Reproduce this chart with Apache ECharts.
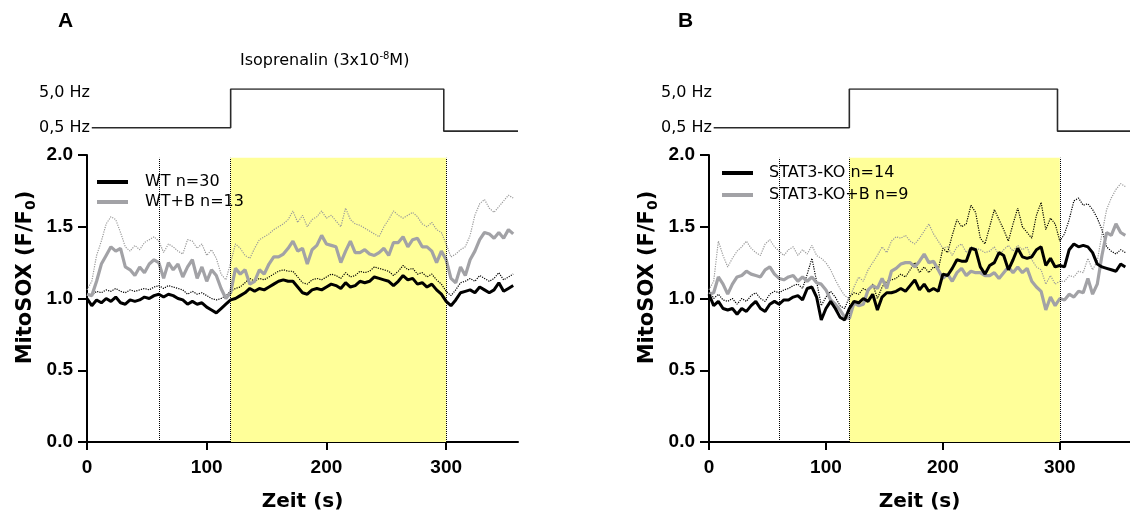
<!DOCTYPE html>
<html>
<head>
<meta charset="utf-8">
<script src="https://cdn.jsdelivr.net/npm/echarts@6/dist/echarts.min.js"></script>
<style>
  html, body { margin: 0; padding: 0; background: #fff; }
  #chart { width: 1130px; height: 517px; }
</style>
</head>
<body>
<div id="chart"></div>
<script>
// sampling grid of the traces (seconds)
const timeSec = Array.from({ length: 90 }, (_, i) => i * 4);

// stimulation protocol (Hz)
const stimTime = [4, 120, 120, 298, 298, 360];
const stimHz = [0.5, 0.5, 5.0, 5.0, 0.1, 0.1];

// markers
const markTimes = [60, 120, 300];
const isoRange = [120, 300];

// panel A
const wtMean = [
  1.00, 0.95, 0.99, 0.97, 1.00, 0.98, 1.01, 0.97, 0.96, 0.99,
  0.98, 0.99, 1.01, 1.00, 1.02, 1.03, 1.01, 1.03, 1.02, 1.00,
  0.99, 0.96, 0.98, 0.96, 0.97, 0.94, 0.92, 0.90, 0.93, 0.96,
  0.99, 1.00, 1.02, 1.04, 1.07, 1.05, 1.07, 1.06, 1.08, 1.10,
  1.12, 1.13, 1.12, 1.12, 1.08, 1.04, 1.03, 1.06, 1.07, 1.06,
  1.08, 1.10, 1.09, 1.07, 1.11, 1.08, 1.09, 1.12, 1.11, 1.12,
  1.15, 1.14, 1.13, 1.12, 1.09, 1.12, 1.16, 1.13, 1.14, 1.10,
  1.11, 1.08, 1.10, 1.06, 1.03, 0.98, 0.95, 0.99, 1.04, 1.05,
  1.06, 1.04, 1.08, 1.06, 1.04, 1.06, 1.11, 1.05, 1.07, 1.09
];
const wtUpper = [
  1.03, 1.02, 1.05, 1.04, 1.06, 1.05, 1.07, 1.05, 1.04, 1.06,
  1.05, 1.06, 1.07, 1.06, 1.08, 1.09, 1.07, 1.09, 1.08, 1.07,
  1.06, 1.03, 1.05, 1.03, 1.04, 1.02, 1.00, 0.99, 1.00, 1.02,
  1.05, 1.07, 1.08, 1.11, 1.14, 1.12, 1.14, 1.13, 1.15, 1.17,
  1.19, 1.20, 1.19, 1.19, 1.15, 1.11, 1.10, 1.13, 1.14, 1.13,
  1.15, 1.17, 1.16, 1.14, 1.18, 1.15, 1.16, 1.19, 1.18, 1.19,
  1.22, 1.21, 1.20, 1.19, 1.16, 1.19, 1.23, 1.20, 1.21, 1.17,
  1.18, 1.15, 1.17, 1.13, 1.10, 1.05, 1.02, 1.06, 1.11, 1.12,
  1.14, 1.12, 1.16, 1.14, 1.12, 1.14, 1.18, 1.13, 1.15, 1.17
];
const wtbMean = [
  1.03, 1.02, 1.12, 1.24, 1.30, 1.36, 1.33, 1.35, 1.22, 1.20,
  1.16, 1.22, 1.18, 1.24, 1.27, 1.25, 1.14, 1.25, 1.20, 1.24,
  1.15, 1.22, 1.27, 1.14, 1.22, 1.12, 1.20, 1.16, 1.07, 1.00,
  1.04, 1.21, 1.17, 1.20, 1.10, 1.12, 1.20, 1.17, 1.24, 1.29,
  1.29, 1.31, 1.35, 1.40, 1.33, 1.35, 1.24, 1.34, 1.37, 1.44,
  1.38, 1.37, 1.36, 1.25, 1.33, 1.40, 1.32, 1.32, 1.34, 1.31,
  1.30, 1.32, 1.35, 1.30, 1.39, 1.39, 1.43, 1.36, 1.41, 1.42,
  1.36, 1.36, 1.33, 1.25, 1.33, 1.27, 1.14, 1.11, 1.22, 1.16,
  1.27, 1.33, 1.41, 1.46, 1.45, 1.42, 1.46, 1.42, 1.48, 1.45
];
const wtbUpper = [
  1.06, 1.12, 1.30, 1.40, 1.52, 1.57, 1.55, 1.46, 1.36, 1.33,
  1.37, 1.34, 1.39, 1.41, 1.43, 1.40, 1.32, 1.38, 1.36, 1.33,
  1.31, 1.41, 1.40, 1.35, 1.38, 1.30, 1.34, 1.28, 1.17, 1.13,
  1.25, 1.38, 1.35, 1.30, 1.28, 1.35, 1.41, 1.43, 1.45, 1.48,
  1.50, 1.52, 1.55, 1.61, 1.53, 1.58, 1.50, 1.55, 1.57, 1.61,
  1.56, 1.58, 1.54, 1.50, 1.63, 1.55, 1.52, 1.51, 1.49, 1.47,
  1.45, 1.43, 1.50, 1.55, 1.61, 1.58, 1.56, 1.58, 1.60, 1.57,
  1.52, 1.50, 1.53, 1.48, 1.46, 1.38, 1.29, 1.31, 1.34, 1.36,
  1.44, 1.58, 1.66, 1.69, 1.63, 1.60, 1.64, 1.68, 1.72, 1.70
];

// panel B
const koMean = [
  1.03, 0.95, 0.98, 0.93, 0.92, 0.93, 0.89, 0.93, 0.91, 0.95,
  0.98, 0.93, 0.91, 0.96, 0.98, 0.96, 0.99, 0.99, 1.01, 1.02,
  0.99, 1.07, 1.08, 1.01, 0.85, 0.93, 0.98, 0.93, 0.87, 0.85,
  0.93, 0.98, 0.97, 1.00, 0.98, 1.03, 0.92, 1.01, 1.04, 1.04,
  1.05, 1.07, 1.05, 1.09, 1.13, 1.06, 1.10, 1.05, 1.07, 1.05,
  1.17, 1.16, 1.21, 1.27, 1.26, 1.26, 1.35, 1.34, 1.22, 1.17,
  1.23, 1.25, 1.32, 1.30, 1.20, 1.27, 1.35, 1.29, 1.28, 1.29,
  1.34, 1.36, 1.23, 1.28, 1.22, 1.23, 1.22, 1.34, 1.38, 1.36,
  1.37, 1.36, 1.32, 1.24, 1.22, 1.21, 1.20, 1.19, 1.24, 1.22
];
const koUpper = [
  1.06, 1.00, 1.03, 0.99, 0.98, 1.00, 0.96, 1.00, 0.98, 1.02,
  1.04, 1.00, 0.98, 1.03, 1.05, 1.04, 1.06, 1.07, 1.09, 1.10,
  1.07, 1.17, 1.28, 1.12, 0.95, 1.01, 1.05, 1.01, 0.95, 0.93,
  1.01, 1.04, 1.03, 1.07, 1.05, 1.10, 1.00, 1.08, 1.12, 1.13,
  1.14, 1.17, 1.15, 1.20, 1.25, 1.18, 1.22, 1.18, 1.22, 1.20,
  1.35, 1.32, 1.44, 1.55, 1.50, 1.52, 1.65, 1.60, 1.42, 1.38,
  1.50, 1.62, 1.55, 1.48, 1.40, 1.52, 1.63, 1.50, 1.46, 1.42,
  1.58, 1.67, 1.48, 1.56, 1.52, 1.40, 1.45, 1.55, 1.68, 1.70,
  1.65, 1.66, 1.62, 1.56, 1.48, 1.36, 1.33, 1.31, 1.34, 1.32
];
const kobMean = [
  1.03, 1.04, 1.15, 1.10, 1.03, 1.10, 1.15, 1.16, 1.19, 1.17,
  1.16, 1.15, 1.20, 1.22, 1.17, 1.14, 1.13, 1.15, 1.16, 1.12,
  1.15, 1.12, 1.15, 1.11, 1.10, 1.06, 0.99, 0.96, 0.92, 0.87,
  0.86, 0.97, 0.95, 0.96, 1.06, 1.09, 1.07, 1.14, 1.07, 1.19,
  1.21, 1.24, 1.25, 1.25, 1.22, 1.26, 1.31, 1.25, 1.26, 1.20,
  1.14, 1.17, 1.12, 1.18, 1.21, 1.16, 1.19, 1.18, 1.18, 1.16,
  1.16, 1.18, 1.14, 1.18, 1.22, 1.18, 1.22, 1.18, 1.21, 1.12,
  1.08, 1.05, 0.92, 1.01, 0.95, 1.00, 0.99, 1.03, 1.01, 1.05,
  1.04, 1.14, 1.03, 1.10, 1.30, 1.46, 1.44, 1.52, 1.46, 1.44
];
const kobUpper = [
  1.06, 1.12, 1.40, 1.30, 1.22, 1.28, 1.33, 1.36, 1.40, 1.35,
  1.32, 1.30, 1.38, 1.41, 1.36, 1.33, 1.30, 1.34, 1.36, 1.30,
  1.34, 1.31, 1.37, 1.30, 1.28, 1.25, 1.20, 1.13, 1.07, 1.02,
  1.00, 1.08, 1.15, 1.12, 1.20, 1.25, 1.30, 1.36, 1.32, 1.40,
  1.43, 1.42, 1.44, 1.40, 1.38, 1.42, 1.47, 1.52, 1.45, 1.40,
  1.35, 1.36, 1.30, 1.36, 1.38, 1.32, 1.36, 1.35, 1.34, 1.32,
  1.33, 1.36, 1.30, 1.34, 1.37, 1.33, 1.37, 1.34, 1.36, 1.27,
  1.22, 1.20, 1.10, 1.16, 1.10, 1.12, 1.12, 1.16, 1.15, 1.19,
  1.18, 1.28, 1.20, 1.26, 1.45, 1.62, 1.70, 1.76, 1.80, 1.78
];

const FONT_TXT = '"DejaVu Sans", sans-serif';
const FONT_BOLD = 'Arial, "Liberation Sans", sans-serif';
const BLACK = '#000000';
const GREY = '#a2a2a6';

const pairs = vals => vals.map((v, i) => [timeSec[i], v]);

const panels = [
  { left: 87, label: 'A', labelLeft: 58, mean: wtMean, upper: wtUpper, bMean: wtbMean, bUpper: wtbUpper,
    names: ['WT n=30', 'WT+B n=13'], legendLeft: 97, legendTop: 173, legendGap: 2, legendPad: 12 },
  { left: 709, label: 'B', labelLeft: 678, mean: koMean, upper: koUpper, bMean: kobMean, bUpper: kobUpper,
    names: ['STAT3-KO n=14', 'STAT3-KO+B n=9'], legendLeft: 722, legendTop: 164, legendGap: 4, legendPad: 11 }
];

const grid = [], xAxis = [], yAxis = [], series = [], legend = [];
const title = [
  {
    text: 'Isoprenalin (3x10{sup|-8}M)', left: 240, top: 51, padding: 0,
    textStyle: {
      fontFamily: FONT_TXT, fontSize: 16, fontWeight: 'normal', color: '#000', lineHeight: 20,
      rich: { sup: { fontFamily: FONT_TXT, fontSize: 10, lineHeight: 10, verticalAlign: 'top', color: '#000' } }
    }
  }
];

panels.forEach((p, k) => {
  const gStim = k * 2, gMain = k * 2 + 1;
  grid.push({ left: p.left, top: 89, width: 431, height: 43 });
  grid.push({ left: p.left, top: 155, width: 431, height: 290 });

  title.push({
    text: p.label, left: p.labelLeft, top: 11, padding: 0,
    textStyle: { fontFamily: FONT_BOLD, fontWeight: 'bold', fontSize: 21, color: '#000' }
  });

  // stimulus trace axes
  xAxis.push({ gridIndex: gStim, type: 'value', min: 0, max: 360, show: false });
  yAxis.push({
    gridIndex: gStim, type: 'value', min: 0, max: 5,
    axisLine: { show: false }, axisTick: { show: false }, splitLine: { show: false },
    axisLabel: {
      customValues: [0.5, 5],
      margin: -3,
      fontFamily: FONT_TXT, fontSize: 16, color: '#000',
      formatter: v => v > 1 ? '{hi|5,0 Hz}' : '{lo|0,5 Hz}',
      rich: {
        hi: { fontFamily: FONT_TXT, fontSize: 16, color: '#000', padding: [8, 0, 0, 0] },
        lo: { fontFamily: FONT_TXT, fontSize: 16, color: '#000' }
      }
    }
  });

  // main axes
  xAxis.push({
    gridIndex: gMain, type: 'value', min: 0, max: 360, interval: 100,
    name: 'Zeit (s)', nameLocation: 'middle', nameGap: 50,
    nameTextStyle: { fontFamily: FONT_TXT, fontWeight: 'bold', fontSize: 20, color: '#000' },
    axisLine: { onZero: false, lineStyle: { color: '#000', width: 2 } },
    axisTick: { customValues: [0, 100, 200, 300], length: 8, lineStyle: { color: '#000', width: 2 } },
    axisLabel: {
      customValues: [0, 100, 200, 300], margin: 16,
      fontFamily: FONT_BOLD, fontWeight: 'bold', fontSize: 19, color: '#000'
    },
    splitLine: { show: false }
  });
  yAxis.push({
    gridIndex: gMain, type: 'value', min: 0, max: 2, interval: 0.5,
    name: 'MitoSOX (F/F{sub|0})', nameLocation: 'middle', nameGap: 49,
    nameTextStyle: {
      fontFamily: FONT_TXT, fontWeight: 'bold', fontSize: 21, color: '#000', lineHeight: 25,
      padding: [0, 0, 0, 42],
      rich: { sub: { fontFamily: FONT_TXT, fontWeight: 'bold', fontSize: 14, lineHeight: 14, verticalAlign: 'bottom', color: '#000' } }
    },
    axisLine: { show: true, lineStyle: { color: '#000', width: 2 } },
    axisTick: { show: true, length: 9, lineStyle: { color: '#000', width: 2 } },
    axisLabel: {
      margin: 14, fontFamily: FONT_BOLD, fontWeight: 'bold', fontSize: 19, color: '#000',
      formatter: v => v.toFixed(1)
    },
    splitLine: { show: false }
  });

  // stimulus trace
  series.push({
    type: 'line', xAxisIndex: gStim, yAxisIndex: gStim, silent: true,
    data: stimTime.map((t, i) => [t, stimHz[i]]),
    symbol: 'none', lineStyle: { color: '#2a2a2a', width: 1.6 }
  });

  // isoprenalin window + marker lines
  series.push({
    type: 'line', xAxisIndex: gMain, yAxisIndex: gMain, data: [], silent: true, z: 1,
    markArea: {
      silent: true, itemStyle: { color: '#ffff99' },
      data: [[{ xAxis: isoRange[0], yAxis: 0 }, { xAxis: isoRange[1], yAxis: 1.98 }]]
    },
    markLine: {
      silent: true, symbol: ['none', 'none'], label: { show: false },
      lineStyle: { type: 'dotted', color: '#000', width: 1 },
      data: markTimes.map(t => [{ coord: [t, 0] }, { coord: [t, 1.98] }])
    }
  });

  const line = (name, vals, color, width, type, z) => ({
    name, type: 'line', xAxisIndex: gMain, yAxisIndex: gMain, z,
    data: pairs(vals), symbol: 'none', showSymbol: false,
    itemStyle: { color }, lineStyle: { color, width, type }
  });

  series.push(line(p.names[1] + ' SEM', p.bUpper, '#9a9a9a', 1.2, 'dotted', 2));
  series.push(line(p.names[0] + ' SEM', p.upper, '#000', 1.2, 'dotted', 2));
  series.push(line(p.names[1], p.bMean, GREY, 3.2, 'solid', 3));
  series.push(line(p.names[0], p.mean, BLACK, 3, 'solid', 4));

  legend.push({
    data: p.names, orient: 'vertical', left: p.legendLeft, top: p.legendTop,
    itemWidth: 31, itemHeight: 4, itemGap: p.legendGap, icon: 'rect', padding: 0,
    textStyle: { fontFamily: FONT_TXT, fontSize: 16, color: '#000', lineHeight: 18, padding: [0, 0, 0, p.legendPad] }
  });
});

const chart = echarts.init(document.getElementById('chart'), null, { renderer: 'canvas' });
chart.setOption({
  animation: false,
  backgroundColor: '#fff',
  title, grid, xAxis, yAxis, legend, series
});
</script>
</body>
</html>
